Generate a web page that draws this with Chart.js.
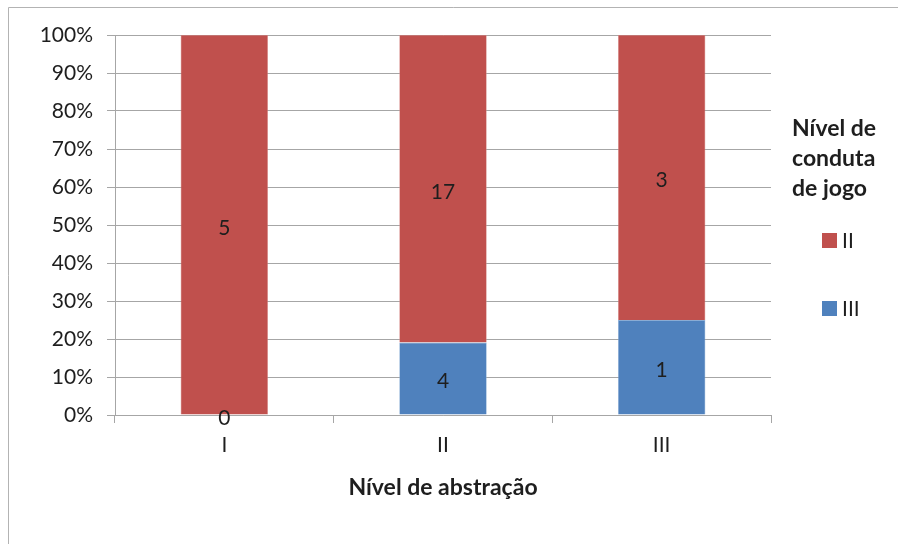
<!DOCTYPE html>
<html>
<head>
<meta charset="utf-8">
<script src="https://cdn.jsdelivr.net/npm/chart.js@4/dist/chart.umd.min.js"></script>
<style>
  html, body { margin: 0; padding: 0; background: #fff; }
  #wrap { width: 898px; height: 544px; position: relative; }
</style>
</head>
<body>
<div id="wrap"><canvas id="c" width="898" height="544"></canvas></div>
<script>
// Nível de abstração (categories) and counts per nível de conduta de jogo
const categories = ['I', 'II', 'III'];
const countsIII = [0, 4, 1];
const countsII = [5, 17, 3];
const seriesNames = ['III', 'II'];
const yTicks = [0, 10, 20, 30, 40, 50, 60, 70, 80, 90, 100];

const FONT = 'Lato, "Open Sans", sans-serif';
const TEXT = '#1e1e1e';
const GRID = '#a6a6a6';
const RED = '#c0504d';
const BLUE = '#4f81bd';

const totals = categories.map((_, i) => countsIII[i] + countsII[i]);
const pct = arr => arr.map((v, i) => v / totals[i] * 100);

// frame lines along the top and left edges
const framePlugin = {
  id: 'frame',
  beforeDraw(chart) {
    const ctx = chart.ctx;
    ctx.save();
    ctx.strokeStyle = '#b3b3b3';
    ctx.lineWidth = 1;
    ctx.beginPath();
    ctx.moveTo(8.5, 544);
    ctx.lineTo(8.5, 7.5);
    ctx.lineTo(898, 7.5);
    ctx.stroke();
    ctx.restore();
  }
};

// count labels in the middle of each segment
const countLabels = {
  id: 'countLabels',
  afterDatasetsDraw(chart) {
    const ctx = chart.ctx;
    ctx.save();
    ctx.font = '21px ' + FONT;
    ctx.fillStyle = TEXT;
    ctx.textAlign = 'center';
    ctx.textBaseline = 'middle';
    chart.data.datasets.forEach((ds, di) => {
      const meta = chart.getDatasetMeta(di);
      meta.data.forEach((bar, i) => {
        const p = bar.getProps(['x', 'y', 'base'], true);
        const yc = (p.y + p.base) / 2;
        ctx.fillText(String(ds.counts[i]), p.x, yc + 3);
      });
    });
    ctx.restore();
  }
};

// legend on the right with a three-line title
const sideLegend = {
  id: 'sideLegend',
  afterDraw(chart) {
    const ctx = chart.ctx;
    ctx.save();
    ctx.fillStyle = TEXT;
    ctx.textAlign = 'left';
    ctx.textBaseline = 'middle';
    ctx.font = 'bold 23px ' + FONT;
    ['Nível de', 'conduta', 'de jogo'].forEach((t, k) => ctx.fillText(t, 792, 129 + k * 30));
    ctx.font = '21px ' + FONT;
    const order = chart.data.datasets.slice().reverse();
    order.forEach((ds, k) => {
      const y = 240 + k * 68;
      ctx.fillStyle = ds.backgroundColor;
      ctx.fillRect(822, y - 7, 15, 15);
      ctx.fillStyle = TEXT;
      ctx.fillText(ds.label, 842, y + 1);
    });
    ctx.restore();
  }
};

new Chart(document.getElementById('c'), {
  type: 'bar',
  data: {
    labels: categories,
    datasets: [
      { label: seriesNames[0], data: pct(countsIII), counts: countsIII, backgroundColor: BLUE, borderColor: '#8fb0d8', borderWidth: 0.6 },
      { label: seriesNames[1], data: pct(countsII), counts: countsII, backgroundColor: RED, borderColor: '#d9908e', borderWidth: 0.6 }
    ]
  },
  options: {
    responsive: false,
    animation: false,
    devicePixelRatio: 1,
    layout: { padding: { left: 0, top: 35, right: 127, bottom: 43 } },
    datasets: { bar: { categoryPercentage: 1, barPercentage: 0.4 } },
    plugins: {
      legend: { display: false },
      tooltip: { enabled: false }
    },
    scales: {
      x: {
        stacked: true,
        afterFit: s => { s.height = 544 - 43 - 415; },
        grid: { display: true, drawOnChartArea: false, drawTicks: true, tickLength: 8, color: GRID, offset: true },
        border: { display: true, color: GRID, width: 1 },
        ticks: { color: TEXT, font: { family: FONT, size: 21 }, padding: 10 },
        title: {
          display: true,
          text: 'Nível de abstração',
          color: TEXT,
          font: { family: FONT, size: 23, weight: 'bold' },
          padding: { top: 10, bottom: 0 }
        }
      },
      y: {
        stacked: true,
        min: 0,
        max: 100,
        afterFit: s => { s.width = 115; },
        afterBuildTicks: s => { s.ticks = yTicks.map(v => ({ value: v })); },
        grid: { color: GRID, tickLength: 8, lineWidth: 1 },
        border: { display: true, color: GRID, width: 1 },
        ticks: {
          color: TEXT,
          font: { family: FONT, size: 21 },
          padding: 14,
          callback: v => v + '%'
        }
      }
    }
  },
  plugins: [framePlugin, countLabels, sideLegend]
});
</script>
</body>
</html>
